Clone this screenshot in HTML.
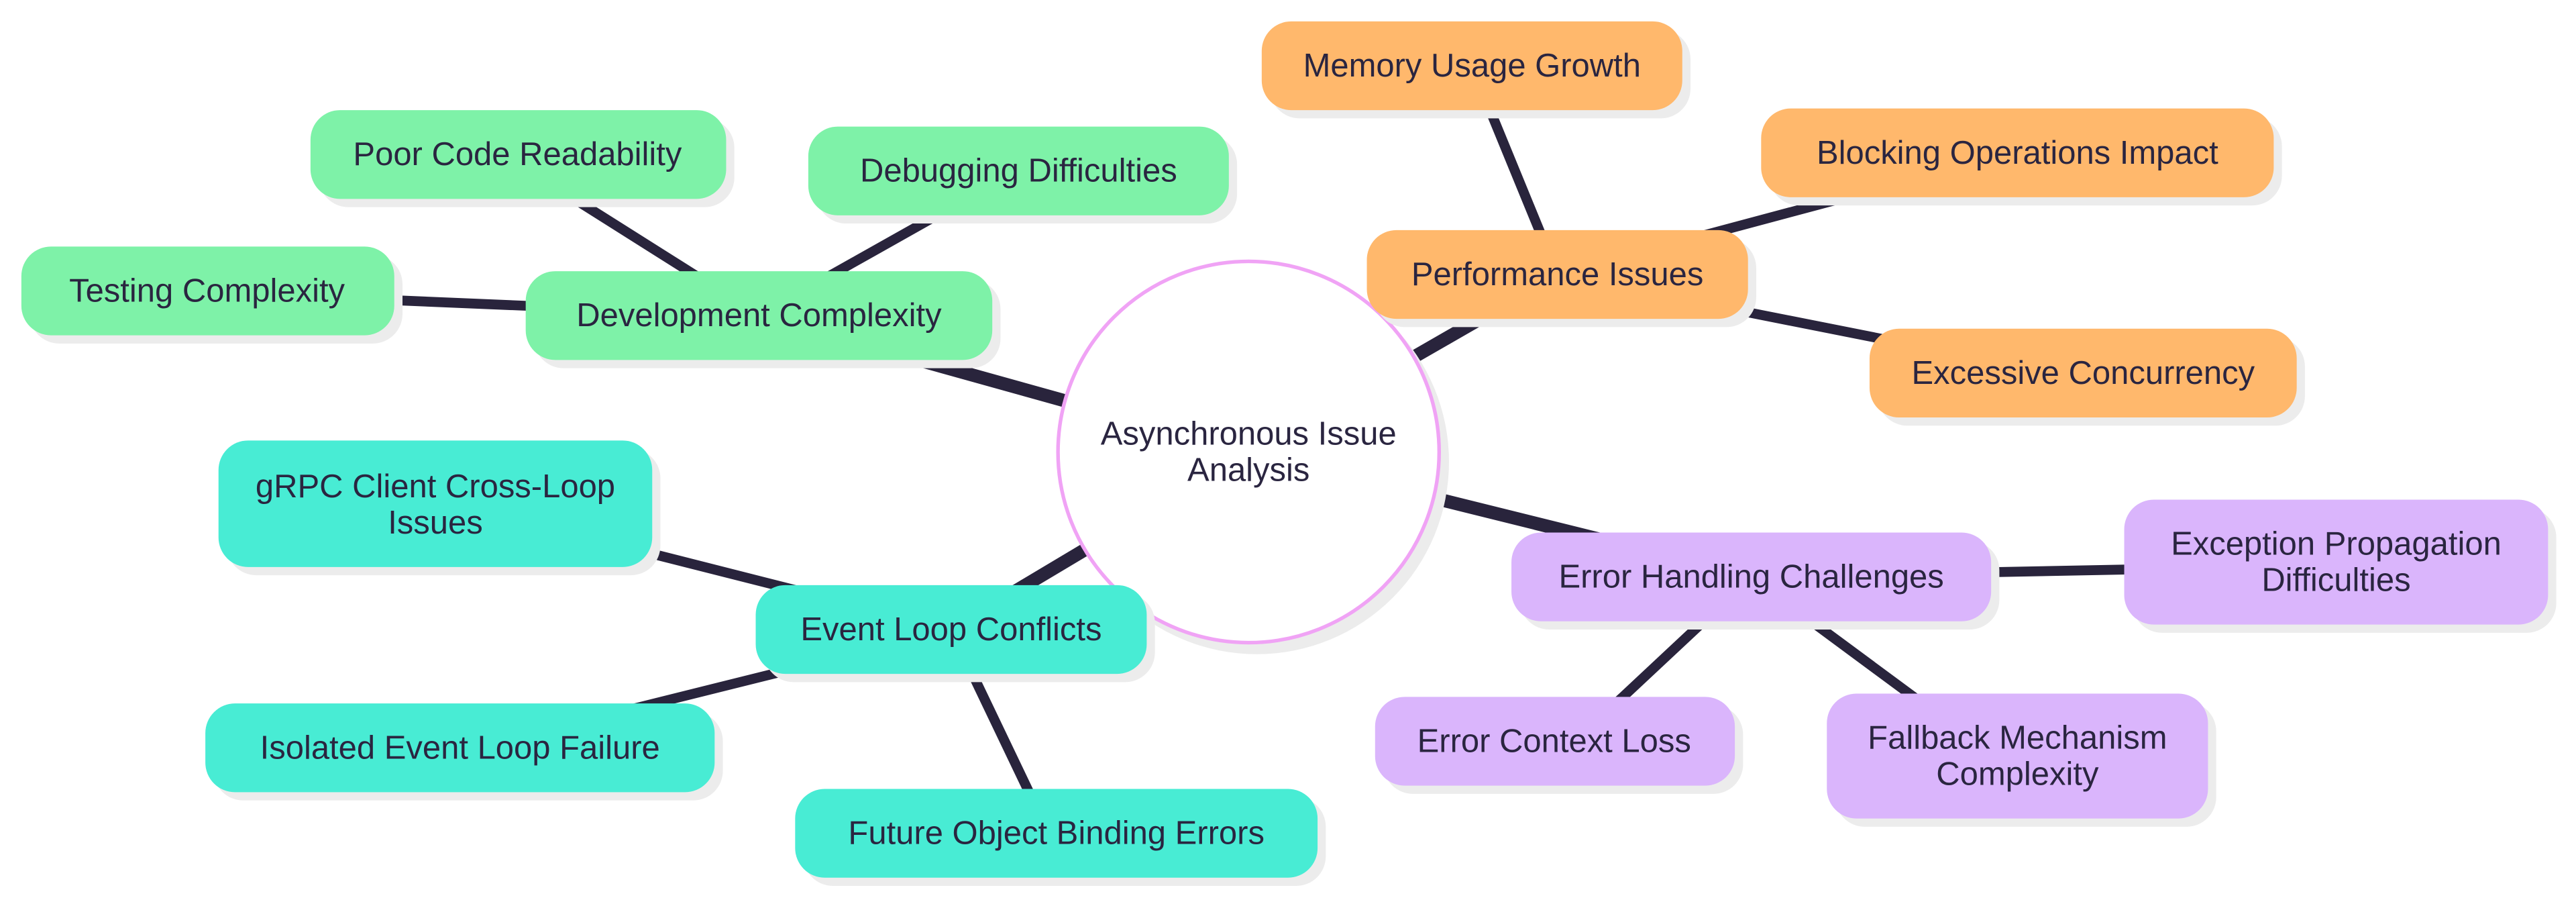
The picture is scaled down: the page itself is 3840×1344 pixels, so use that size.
<!DOCTYPE html>
<html><head><meta charset="utf-8"><style>
html,body{margin:0;padding:0;background:#fff;}
svg{display:block;}
text{font-family:"Liberation Sans",sans-serif;font-size:20px;fill:#2a2540;text-anchor:middle;dominant-baseline:central;}
</style></head><body>
<svg width="3840" height="1344" viewBox="0 0 1568 548.8" xmlns="http://www.w3.org/2000/svg">
<g stroke="#29243c" stroke-linecap="butt">
<g stroke-width="8">
<line x1="760" y1="275" x2="462" y2="192"/>
<line x1="760" y1="275" x2="948" y2="167"/>
<line x1="760" y1="275" x2="1066" y2="351"/>
<line x1="760" y1="275" x2="579" y2="383"/>
</g>
<g stroke-width="6">
<line x1="462" y1="192" x2="340" y2="115"/>
<line x1="462" y1="192" x2="590" y2="120"/>
<line x1="462" y1="192" x2="200" y2="181"/>
<line x1="948" y1="167" x2="900" y2="50"/>
<line x1="948" y1="167" x2="1180" y2="105"/>
<line x1="948" y1="167" x2="1200" y2="217"/>
<line x1="1066" y1="351" x2="1422" y2="344"/>
<line x1="1066" y1="351" x2="960" y2="450"/>
<line x1="1066" y1="351" x2="1200" y2="450"/>
<line x1="579" y1="383" x2="330" y2="320"/>
<line x1="579" y1="383" x2="330" y2="445"/>
<line x1="579" y1="383" x2="635" y2="500"/>
</g>
</g>
<circle cx="765" cy="281" r="117" fill="#ececec"/>
<circle cx="760" cy="275" r="116" fill="#fff" stroke="#f0a3f5" stroke-width="2.2"/>
<text x="760" y="264">Asynchronous Issue</text>
<text x="760" y="286">Analysis</text>

<g fill="#ececec">
<rect x="194" y="72" width="253" height="54" rx="18"/>
<rect x="497" y="82" width="256" height="54" rx="18"/>
<rect x="18" y="155" width="227" height="54" rx="18"/>
<rect x="325" y="170" width="284" height="54" rx="18"/>
<rect x="138" y="273" width="264" height="77" rx="18"/>
<rect x="465" y="361" width="238" height="54" rx="18"/>
<rect x="130" y="433" width="310" height="54" rx="18"/>
<rect x="489" y="485" width="318" height="54" rx="18"/>
<rect x="773" y="18" width="256" height="54" rx="18"/>
<rect x="1077" y="71" width="312" height="54" rx="18"/>
<rect x="837" y="145" width="232" height="54" rx="18"/>
<rect x="1143" y="205" width="260" height="54" rx="18"/>
<rect x="925" y="329" width="292" height="54" rx="18"/>
<rect x="1298" y="309" width="258" height="76" rx="18"/>
<rect x="842" y="429" width="219" height="54" rx="18"/>
<rect x="1117" y="427" width="232" height="76" rx="18"/>
</g>
<g fill="#7ef2a8">
<rect x="189" y="67" width="253" height="54" rx="18"/>
<rect x="492" y="77" width="256" height="54" rx="18"/>
<rect x="13" y="150" width="227" height="54" rx="18"/>
<rect x="320" y="165" width="284" height="54" rx="18"/>
</g>
<g fill="#48ecd4">
<rect x="133" y="268" width="264" height="77" rx="18"/>
<rect x="460" y="356" width="238" height="54" rx="18"/>
<rect x="125" y="428" width="310" height="54" rx="18"/>
<rect x="484" y="480" width="318" height="54" rx="18"/>
</g>
<g fill="#ffb86c">
<rect x="768" y="13" width="256" height="54" rx="18"/>
<rect x="1072" y="66" width="312" height="54" rx="18"/>
<rect x="832" y="140" width="232" height="54" rx="18"/>
<rect x="1138" y="200" width="260" height="54" rx="18"/>
</g>
<g fill="#dab5fc">
<rect x="920" y="324" width="292" height="54" rx="18"/>
<rect x="1293" y="304" width="258" height="76" rx="18"/>
<rect x="837" y="424" width="219" height="54" rx="18"/>
<rect x="1112" y="422" width="232" height="76" rx="18"/>
</g>

<text x="315" y="94">Poor Code Readability</text>
<text x="620" y="104">Debugging Difficulties</text>
<text x="126" y="177">Testing Complexity</text>
<text x="462" y="192">Development Complexity</text>
<text x="265" y="296">gRPC Client Cross-Loop</text>
<text x="265" y="318">Issues</text>
<text x="579" y="383">Event Loop Conflicts</text>
<text x="280" y="455">Isolated Event Loop Failure</text>
<text x="643" y="507">Future Object Binding Errors</text>
<text x="896" y="40">Memory Usage Growth</text>
<text x="1228" y="93">Blocking Operations Impact</text>
<text x="948" y="167">Performance Issues</text>
<text x="1268" y="227">Excessive Concurrency</text>
<text x="1066" y="351">Error Handling Challenges</text>
<text x="1422" y="331">Exception Propagation</text>
<text x="1422" y="353">Difficulties</text>
<text x="946" y="451">Error Context Loss</text>
<text x="1228" y="449">Fallback Mechanism</text>
<text x="1228" y="471">Complexity</text>
</svg>
</body></html>
